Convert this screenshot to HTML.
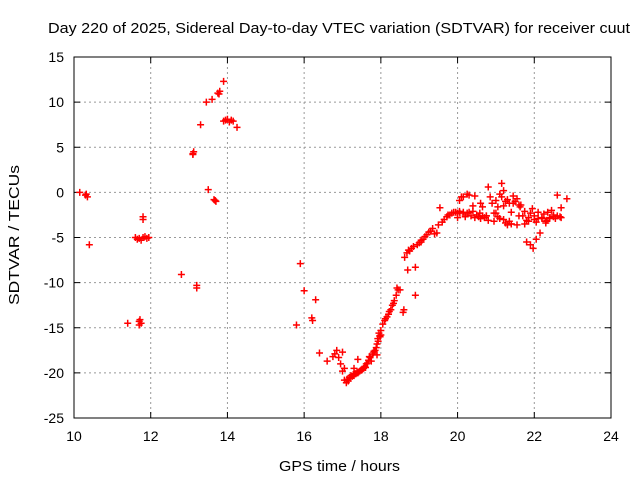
<!DOCTYPE html>
<html><head><meta charset="utf-8"><style>
body{margin:0;background:#fff}
svg{display:block;font-family:"Liberation Sans",sans-serif}
</style></head><body>
<svg id="c" width="640" height="480" viewBox="0 0 640 480">
<rect width="640" height="480" fill="#fff"/>
<text x="48" y="33" font-size="15" textLength="582" lengthAdjust="spacingAndGlyphs">Day 220 of 2025, Sidereal Day-to-day VTEC variation (SDTVAR) for receiver cuut</text>
<text x="279" y="471" font-size="15" textLength="121" lengthAdjust="spacingAndGlyphs">GPS time / hours</text>
<text transform="translate(19,305) rotate(-90)" font-size="15" textLength="140" lengthAdjust="spacingAndGlyphs">SDTVAR / TECUs</text>
<g id="grid"></g><g id="ticks"></g><g id="marks"></g>
<rect x="74" y="57" width="537" height="361" fill="none" stroke="#000" stroke-width="1"/>
</svg>
<script>
const xTicks=[10,12,14,16,18,20,22,24];
const yTicks=[15,10,5,0,-5,-10,-15,-20,-25];
const hours=[10.15,10.3,10.35,10.32,10.4,11.6,11.65,11.7,11.75,11.8,11.85,11.9,11.95,11.8,11.8,11.4,11.7,11.7,11.75,11.72,12.8,13.2,13.2,13.1,13.12,13.1,13.3,13.45,13.6,13.75,13.8,13.78,13.9,13.9,13.95,14.0,14.05,14.1,14.15,14.25,13.5,13.65,13.7,13.68,
15.8,15.9,16.0,16.2,16.22,16.3,16.4,16.6,16.75,16.8,16.85,16.9,16.95,17.0,17.0,17.05,17.1,17.15,17.2,17.25,17.3,17.35,17.4,17.45,17.5,17.55,17.6,17.3,17.4,17.7,17.8,17.85,17.9,17.92,17.95,18.0,17.9,17.75,17.65,17.98,18.0,
18.1,18.16,18.22,18.3,18.35,18.42,18.45,18.58,18.6,18.7,18.68,18.72,18.8,18.9,18.9,19.0,19.05,19.1,19.2,19.3,19.4,19.46,19.54,19.6,19.72,19.8,19.9,20.0,20.06,20.1,20.2,20.3,20.4,20.5,20.58,20.7,20.85,20.9,21.0,21.1,21.15,21.2,21.3,21.3,21.35,21.4,21.5,21.6,21.63,21.7,21.8,21.9,21.95,22.0,22.1,22.15,22.2,22.3,22.33,22.4,22.5,22.6,22.67,22.7,22.85,21.9,21.97,22.05,20.15,20.3,20.6,20.8,21.05,21.1,21.2,21.45,21.55,21.85,22.45,
17.05,17.12,17.18,17.22,17.28,17.33,17.38,17.42,17.48,17.52,17.58,17.62,17.68,17.72,17.78,17.82,17.88,17.93,17.97,
18.05,18.12,18.2,18.26,18.33,18.4,18.5,18.62,18.75,18.85,18.95,19.05,19.15,19.25,19.35,19.5,19.65,19.75,19.85,19.95,20.05,20.15,20.25,20.35,20.45,20.55,20.65,20.75,20.95,21.05,21.15,21.25,21.35,21.45,21.55,21.65,21.75,21.85,22.0,22.1,22.2,22.3,22.4,22.5,22.6,
20.05,20.25,20.45,20.65,20.75,20.95,21.25,21.4,21.6,21.75,22.25,22.35,22.55,22.7,20.0,20.2,20.4,20.6,20.8,21.0,21.2,21.4,21.8,22.05,22.2];
const tecu=[0,-0.3,-0.5,-0.2,-5.8,-5,-5.2,-5.1,-5.3,-5,-4.9,-5.1,-5,-2.7,-3,-14.5,-14.3,-14.7,-14.5,-14.1,-9.1,-10.3,-10.6,4.3,4.5,4.2,7.5,10,10.3,11,11.2,10.9,12.3,7.9,8,8.1,7.8,8,7.9,7.2,0.3,-0.8,-1,-0.9,
-14.7,-7.9,-10.9,-13.9,-14.2,-11.9,-17.8,-18.7,-18.2,-17.9,-17.5,-18.3,-19,-17.7,-19.8,-19.5,-21.1,-20.9,-20.6,-20.4,-20.3,-20.1,-20,-19.8,-19.7,-19.5,-19.4,-19.5,-18.5,-18.2,-17.8,-17.5,-16.8,-16.2,-15.6,-15.3,-18,-18.7,-18.9,-16,-15.8,
-14.2,-13.8,-13.2,-12.5,-12,-10.6,-10.8,-13.3,-13,-8.6,-6.7,-6.4,-6.2,-11.4,-8.3,-5.6,-5.3,-5.2,-4.7,-4.3,-4.6,-4.5,-1.7,-3.3,-2.7,-2.5,-2.2,-2.3,-2.3,-0.5,-2.5,-2.2,-1.5,-2.5,-2.3,-2.8,-0.5,-1.2,-0.9,-0.2,1,0.2,-0.8,-3.6,-3.2,-3.5,-1,-1.4,-1.6,-2.6,-3.1,-2.3,-1.8,-2.6,-2.2,-4.5,-2.8,-3.4,-3.1,-2.9,-2.7,-2.6,-2.7,-2.8,-0.7,-5.8,-6.2,-5.2,-0.5,-0.3,-1.2,0.6,-2.7,-2.9,-1.5,-1.2,-3.6,-3.2,-2,
-20.8,-20.7,-20.5,-20.3,-20.2,-20.1,-19.9,-19.9,-19.7,-19.6,-19.3,-19.0,-18.6,-18.3,-18.0,-17.6,-17.2,-16.5,-15.9,
-14.6,-14.0,-13.5,-13.0,-12.3,-11.4,-10.8,-7.2,-6.5,-6.0,-5.8,-5.5,-4.9,-4.4,-4.0,-3.6,-3.0,-2.5,-2.3,-2.2,-2.1,-2.2,-2.3,-2.6,-2.8,-2.7,-2.6,-2.6,-2.3,-1.6,-0.5,-1.0,-1.2,-0.4,-0.7,-1.4,-2.1,-2.8,-3.0,-2.9,-2.9,-3.2,-2.8,-2.5,
-0.3,-0.9,-0.2,-0.4,-1.6,-2.6,-3.2,-3.4,-2.2,-2.6,-3.5,-2.4,-2.2,-2.9,-1.7,-2.8,-2.7,-2.1,-2.9,-3.1,-2.3,-3.0,-3.5,-5.5,-3.3];
const X=h=>74+(h-10)*537/14, Y=v=>57+(15-v)*361/40;
const NS='http://www.w3.org/2000/svg';
const grid=document.getElementById('grid'),ticks=document.getElementById('ticks'),marks=document.getElementById('marks');
function mk(tag,a,p){const e=document.createElementNS(NS,tag);for(const k in a)e.setAttribute(k,a[k]);p.appendChild(e);return e;}
xTicks.forEach(t=>{const x=X(t);
 if(t>10&&t<24){const g=mk('line',{x1:x,x2:x,y1:57,y2:418,stroke:'#999','stroke-dasharray':'2,3'},grid);
 
 }
 mk('line',{x1:x,x2:x,y1:418,y2:412,stroke:'#000'},ticks);mk('line',{x1:x,x2:x,y1:57,y2:63,stroke:'#000'},ticks);
 const l=mk('text',{x:x,y:441,'font-size':14,'text-anchor':'middle'},ticks);l.textContent=t;
 
 });
yTicks.forEach(t=>{const y=Y(t);
 if(t<15&&t>-25){const g=mk('line',{x1:74,x2:611,y1:y,y2:y,stroke:'#999','stroke-dasharray':'2,3'},grid);
 
 }
 mk('line',{x1:74,x2:80,y1:y,y2:y,stroke:'#000'},ticks);mk('line',{x1:611,x2:605,y1:y,y2:y,stroke:'#000'},ticks);
 const l=mk('text',{x:64,y:y+5,'font-size':14,'text-anchor':'end'},ticks);l.textContent=t;
 
 });
hours.forEach((h,i)=>{const x=X(h),y=Y(tecu[i]);
 const p=mk('path',{d:`M${x-3.5},${y}H${x+3.5}M${x},${y-3.5}V${y+3.5}`,stroke:'#f00','stroke-width':1.5,fill:'none'},marks);
 
 });
</script>
</body></html>
